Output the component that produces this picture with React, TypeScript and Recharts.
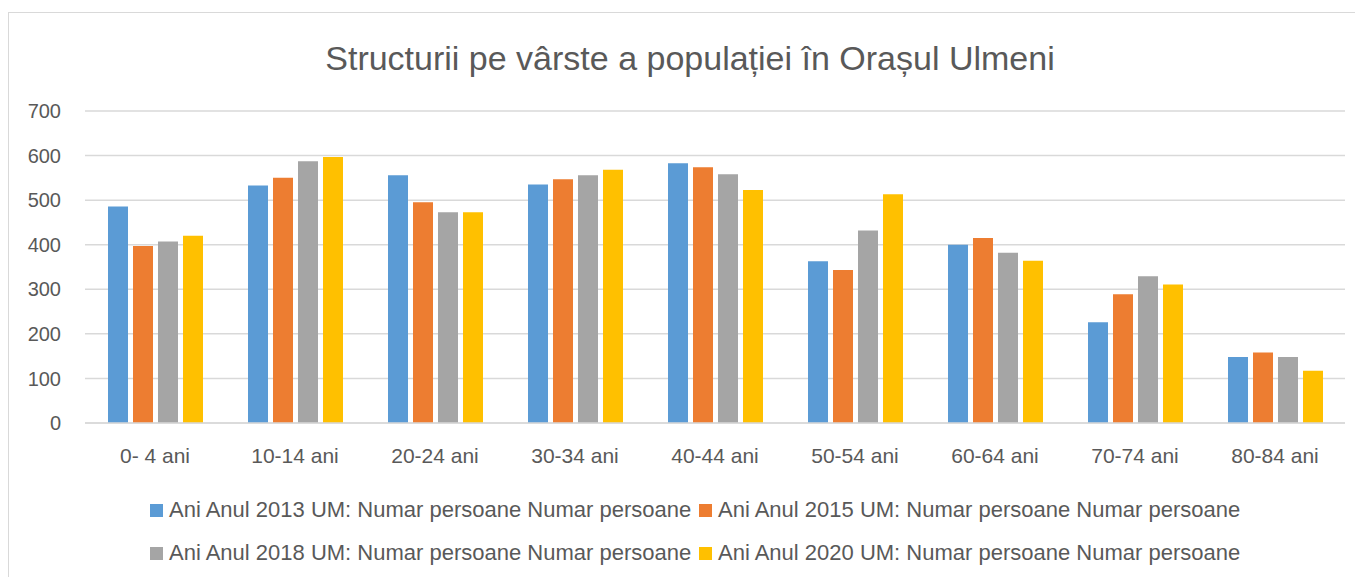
import React from "react";
import { BarChart, Bar, XAxis, YAxis, CartesianGrid } from "recharts";

const ageGroups = [
  "0- 4 ani",
  "10-14 ani",
  "20-24 ani",
  "30-34 ani",
  "40-44 ani",
  "50-54 ani",
  "60-64 ani",
  "70-74 ani",
  "80-84 ani",
];

const values2013 = [486, 533, 556, 535, 583, 363, 400, 226, 148];
const values2015 = [397, 550, 495, 547, 574, 343, 415, 289, 158];
const values2018 = [407, 587, 473, 556, 558, 432, 382, 329, 148];
const values2020 = [420, 597, 473, 568, 523, 513, 364, 311, 117];

const yTicks = [0, 100, 200, 300, 400, 500, 600, 700];

const seriesLabels = [
  "Ani Anul 2013 UM: Numar persoane Numar persoane",
  "Ani Anul 2015 UM: Numar persoane Numar persoane",
  "Ani Anul 2018 UM: Numar persoane Numar persoane",
  "Ani Anul 2020 UM: Numar persoane Numar persoane",
];

const colors = ["#5B9BD5", "#ED7D31", "#A5A5A5", "#FFC000"];
const keys = ["y2013", "y2015", "y2018", "y2020"];

const FONT = "'Liberation Sans', Arial, sans-serif";
const TEXT = "#595959";

const data = ageGroups.map((g, i) => ({
  group: g,
  y2013: values2013[i],
  y2015: values2015[i],
  y2018: values2018[i],
  y2020: values2020[i],
}));

const LegendItem = ({ i, left, top }: { i: number; left: number; top: number }) => (
  <div
    style={{
      position: "absolute",
      left,
      top,
      display: "flex",
      alignItems: "center",
      whiteSpace: "nowrap",
    }}
  >
    <span
      style={{
        width: 13,
        height: 13,
        background: colors[i],
        display: "inline-block",
        marginRight: 6,
      }}
    />
    <span style={{ fontSize: 22, color: TEXT, lineHeight: "24px" }}>
      {seriesLabels[i]}
    </span>
  </div>
);

export default function App() {
  return (
    <div
      style={{
        position: "relative",
        marginTop: 4,
        width: 1352,
        height: 570,
        border: "1px solid #d9d9d9",
        background: "#fff",
        fontFamily: FONT,
      }}
    >
      <div
        style={{
          position: "absolute",
          left: 0,
          width: 1362,
          top: 27,
          textAlign: "center",
          fontSize: 34,
          lineHeight: "36px",
          color: TEXT,
        }}
      >
        Structurii pe vârste a populației în Orașul Ulmeni
      </div>
      <BarChart
        width={1352}
        height={570}
        data={data}
        margin={{ top: 98, right: 16, left: 16, bottom: 120 }}
        barSize={20}
        barGap={5}
      >
        <CartesianGrid vertical={false} stroke="#d9d9d9" strokeWidth={1.5} />
        <XAxis
          dataKey="group"
          height={40}
          axisLine={{ stroke: "#d9d9d9", strokeWidth: 1.5 }}
          tickLine={false}
          tickSize={0}
          tickMargin={25}
          tick={{ fill: TEXT, fontSize: 21, fontFamily: FONT }}
          interval={0}
        />
        <YAxis
          width={60}
          domain={[0, 700]}
          ticks={yTicks}
          axisLine={false}
          tickLine={false}
          tickSize={0}
          tickMargin={24}
          tick={{ fill: TEXT, fontSize: 20, fontFamily: FONT }}
        />
        {keys.map((k, i) => (
          <Bar key={k} dataKey={k} fill={colors[i]} isAnimationActive={false} />
        ))}
      </BarChart>
      <LegendItem i={0} left={141} top={485} />
      <LegendItem i={1} left={690} top={485} />
      <LegendItem i={2} left={141} top={528} />
      <LegendItem i={3} left={690} top={528} />
    </div>
  );
}
